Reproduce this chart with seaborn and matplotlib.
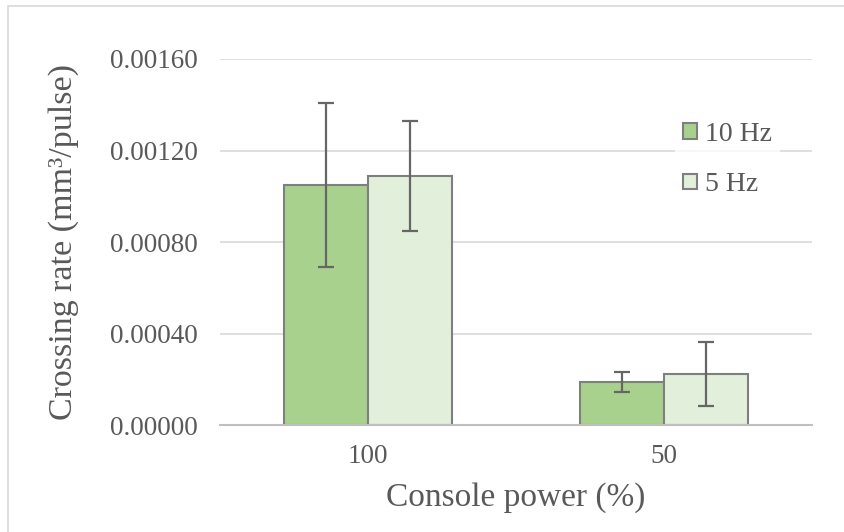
import matplotlib
matplotlib.use("Agg")
import matplotlib.pyplot as plt
import seaborn as sns
import pandas as pd
from matplotlib.patches import Rectangle

# Data
power = ["100", "50"]
freqs = ["10 Hz", "5 Hz"]
rate_10hz = [0.001049, 0.000188]
rate_5hz = [0.001089, 0.000223]
err_10hz = [0.000360, 0.000042]
err_5hz = [0.000240, 0.000140]
y_ticks = [0.0, 0.0004, 0.0008, 0.0012, 0.0016]
y_ticklabels = ["0.00000", "0.00040", "0.00080", "0.00120", "0.00160"]

df = pd.DataFrame({
    "power": power * 2,
    "freq": [freqs[0]] * 2 + [freqs[1]] * 2,
    "rate": rate_10hz + rate_5hz,
    "err": err_10hz + err_5hz,
})

sns.set_theme(style="white")
plt.rcParams["font.family"] = ["Liberation Serif", "DejaVu Serif"]
text_color = "#595959"

fig = plt.figure(figsize=(8.45, 5.32), dpi=100)
ax = fig.add_axes([0.2604, 0.2011, 0.7006, 0.6880])

palette = {"10 Hz": "#a9d18e", "5 Hz": "#e2efda"}
sns.barplot(data=df, x="power", y="rate", hue="freq", order=power,
            hue_order=freqs, palette=palette, errorbar=None, width=0.57,
            gap=0, edgecolor="#7f7f7f", linewidth=1.5, saturation=1,
            ax=ax, zorder=2)

# Error bars centred on each drawn bar
errs = {f: dict(zip(power, e)) for f, e in zip(freqs, [err_10hz, err_5hz])}
vals = {f: dict(zip(power, v)) for f, v in zip(freqs, [rate_10hz, rate_5hz])}
for container, f in zip(ax.containers, freqs):
    for bar, p in zip(container, power):
        cx = bar.get_x() + bar.get_width() / 2
        ax.errorbar(cx, vals[f][p], yerr=errs[f][p], fmt="none",
                    ecolor="#666666", elinewidth=1.6, capsize=6,
                    capthick=1.6, zorder=3)

ax.set_xlim(-0.5, 1.5)
ax.set_ylim(0, 0.0016)
ax.set_yticks(y_ticks)
ax.set_yticklabels(y_ticklabels)
ax.yaxis.grid(True, color="#d9d9d9", linewidth=1.2, zorder=0)
ax.set_axisbelow(True)
for s in ["top", "right", "left"]:
    ax.spines[s].set_visible(False)
ax.spines["bottom"].set_color("#bfbfbf")
ax.spines["bottom"].set_linewidth(1.5)
ax.spines["bottom"].set_zorder(4)
ax.tick_params(axis="both", length=0, labelsize=19.5, labelcolor=text_color)
ax.tick_params(axis="y", pad=16)
ax.tick_params(axis="x", pad=14)

ax.set_xlabel("Console power (%)", fontsize=24, color=text_color, labelpad=9)
ax.set_ylabel("Crossing rate (mm³/pulse)", fontsize=24.5,
              color=text_color, labelpad=22)

leg = ax.legend(loc="upper left", bbox_to_anchor=(0.768, 0.851), frameon=True,
                fontsize=20, handlelength=0.5, handleheight=0.5,
                handletextpad=0.3, labelspacing=0.92, borderpad=0.3,
                borderaxespad=0, fancybox=False)
leg.get_frame().set_facecolor("white")
leg.get_frame().set_edgecolor("none")
for t in leg.get_texts():
    t.set_color(text_color)
for h in leg.legend_handles:
    h.set_edgecolor("#7f7f7f")
    h.set_linewidth(1.5)

# Outer chart border
fig.patches.append(Rectangle((8 / 845, -0.01), 1.0, 1 - 6 / 532 + 0.01,
                             transform=fig.transFigure, fill=False,
                             edgecolor="#d9d9d9", linewidth=1.2))

fig.savefig("out.png", dpi=100, facecolor="white")
